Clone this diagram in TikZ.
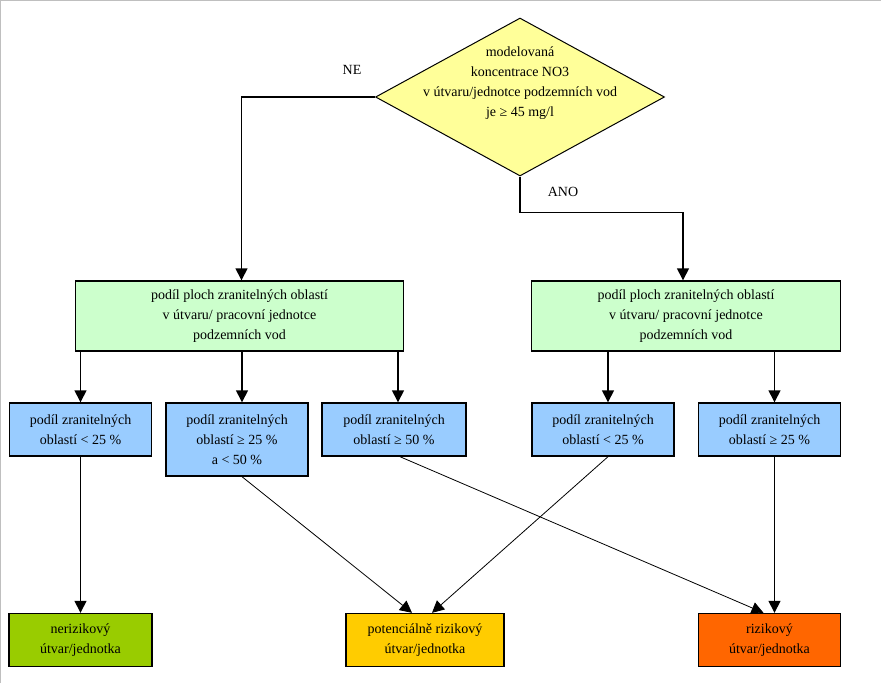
\documentclass[tikz,border=0pt]{standalone}
\usepackage{fontspec}
\setmainfont{Liberation Serif}
\usetikzlibrary{arrows.meta,positioning,calc,shapes.geometric}
\definecolor{decfill}{HTML}{FFFF99}
\definecolor{areafill}{HTML}{CCFFCC}
\definecolor{sharefill}{HTML}{99CCFF}
\definecolor{lowrisk}{HTML}{99CC00}
\definecolor{midrisk}{HTML}{FFCC00}
\definecolor{highrisk}{HTML}{FF6600}

\begin{document}
\begin{tikzpicture}[x=1pt,y=-1pt,
    every node/.style={font=\fontsize{14}{20}\selectfont, align=center, inner sep=0pt},
    box/.style={draw, line width=1.4pt, rectangle, minimum height=53pt},
    decision/.style={draw, line width=1pt, diamond, fill=decfill,
                     minimum width=289pt, minimum height=158pt},
    area/.style={box, fill=areafill, minimum height=70pt},
    share/.style={box, fill=sharefill, minimum width=142pt},
    result/.style={box, minimum width=143pt},
    flow/.style={line width=1.4pt, -{Triangle[width=12pt,length=12pt]}},
    thinflow/.style={line width=0.8pt, -{Triangle[width=12pt,length=12pt]}}]
  \useasboundingbox (0,0) rectangle (881,683);
  \draw[black!25, line width=1.2pt] (0.6,683) -- (0.6,0.6) -- (881,0.6);

  % decision
  \node[decision] (dec) at (520,97) {};
  \node (dectext) at (520,83) {modelovaná\\ koncentrace NO3\\ v útvaru/jednotce podzemních vod\\ je ≥ 45 mg/l};
  \node (ne) at (352,70) {NE};
  \node (ano) at (563,192) {ANO};

  % share of vulnerable areas
  \node[area, minimum width=328pt] (gl) at (239.5,316) {podíl ploch zranitelných oblastí\\ v útvaru/ pracovní jednotce\\ podzemních vod};
  \node[area, minimum width=309pt] (gr) at (686,316) {podíl ploch zranitelných oblastí\\ v útvaru/ pracovní jednotce\\ podzemních vod};

  \node[share] (b1) at (80.5,429.5) {podíl zranitelných\\ oblastí < 25 \%};
  \node[share, minimum height=73pt] (b2) at (237,439.5) {podíl zranitelných\\ oblastí ≥ 25 \%\\ a < 50 \%};
  \node[share, minimum width=144pt] (b3) at (394,429.5) {podíl zranitelných\\ oblastí ≥ 50 \%};
  \node[share] (b4) at (603,429.5) {podíl zranitelných\\ oblastí < 25 \%};
  \node[share] (b5) at (769.5,429.5) {podíl zranitelných\\ oblastí ≥ 25 \%};

  % results
  \node[result, fill=lowrisk] (r1) at (80.5,640) {nerizikový\\ útvar/jednotka};
  \node[result, fill=midrisk, minimum width=158pt] (r2) at (425,640) {potenciálně rizikový\\ útvar/jednotka};
  \node[result, fill=highrisk, minimum width=142pt] (r3) at (769.5,640) {rizikový\\ útvar/jednotka};

  \draw[flow] (dec.west) -| ([xshift=2pt]gl.north);
  \draw[flow] (dec.south) -- ++(0,36) -| ([xshift=-3pt]gr.north);

  \draw[flow] (gl.south -| b1.north) -- (b1.north);
  \draw[flow] ([xshift=5pt]gl.south -| b2.north) -- ([xshift=5pt]b2.north);
  \draw[flow] ([xshift=4pt]gl.south -| b3.north) -- ([xshift=4pt]b3.north);
  \draw[flow] ([xshift=5pt]gr.south -| b4.north) -- ([xshift=5pt]b4.north);
  \draw[flow] ([xshift=5pt]gr.south -| b5.north) -- ([xshift=5pt]b5.north);

  \draw[flow] (b1.south) -- (r1.north);
  \draw[thinflow] ([xshift=5pt]b2.south) -- ([xshift=-13pt]r2.north);
  \draw[thinflow] ([xshift=5pt]b4.south) -- ([xshift=7pt]r2.north);
  \draw[thinflow] ([xshift=6pt]b3.south) -- ([xshift=-6pt]r3.north);
  \draw[flow] ([xshift=5pt]b5.south) -- ([xshift=5pt]r3.north);
\end{tikzpicture}
\end{document}
